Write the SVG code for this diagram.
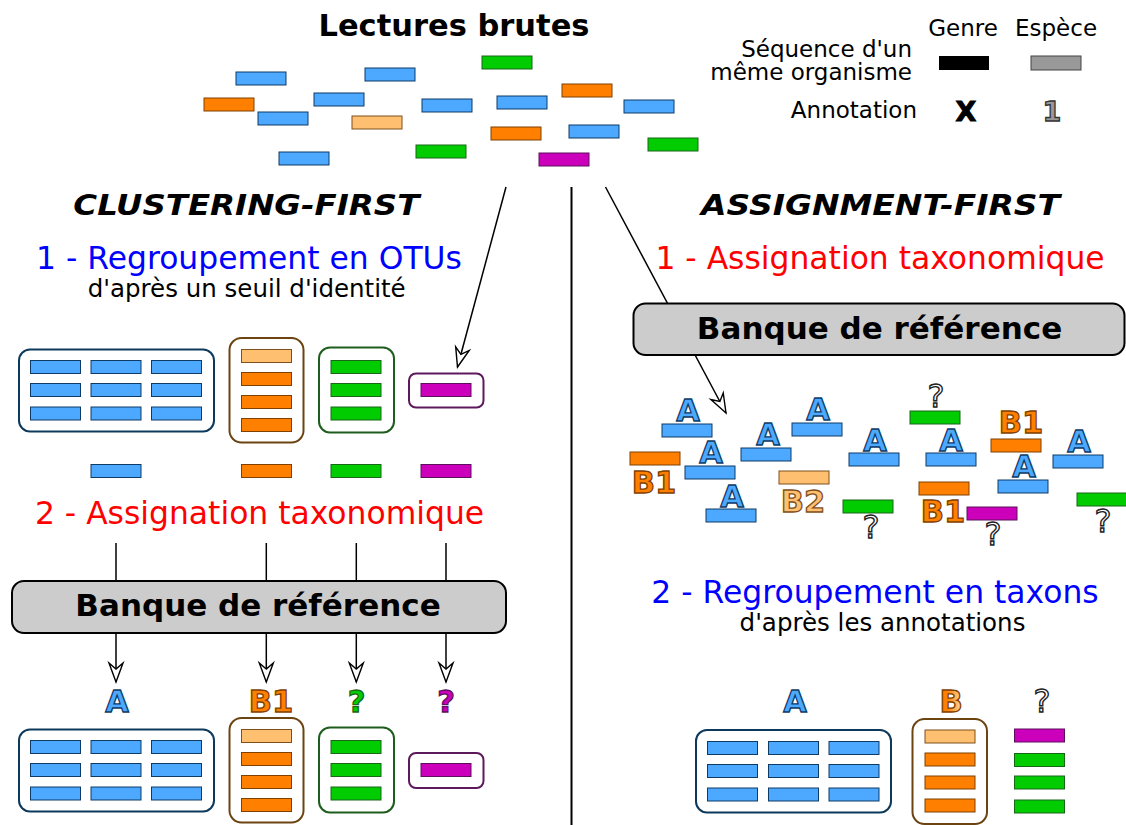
<svg xmlns="http://www.w3.org/2000/svg" width="1126" height="825" viewBox="0 0 1126 825">
<style>
text{font-family:"DejaVu Sans","Liberation Sans",sans-serif}
.b{fill:#4da9ff;stroke:#0d3b66;stroke-width:1}
.o{fill:#ff8000;stroke:#7f4000;stroke-width:1}
.lo{fill:#ffbf70;stroke:#7f501a;stroke-width:1}
.g{fill:#00cc00;stroke:#1a661a;stroke-width:1}
.m{fill:#cc00bb;stroke:#5c105c;stroke-width:1}
.gb{fill:#fff;stroke:#0d3a5c;stroke-width:2}
.go{fill:#fff;stroke:#6b4411;stroke-width:2}
.gg{fill:#fff;stroke:#1d5d1d;stroke-width:2}
.gm{fill:#fff;stroke:#5c1a5c;stroke-width:2}
.bank{fill:#cccccc;stroke:#000;stroke-width:2}
.banktxt{font-weight:bold;font-size:31px;text-anchor:middle}
.lab{font-weight:bold;font-size:30.5px;text-anchor:middle;stroke-width:1.3}
.la{fill:#4da9ff;stroke:#0d3b66}
.lb{fill:#ff8000;stroke:#7f4000}
.lb2{fill:#ffbf70;stroke:#7f501a}
.lg{fill:#00cc00;stroke:#1a661a}
.lm{fill:#cc00bb;stroke:#5c105c}
.q{font-size:32px;text-anchor:middle;fill:#fff;stroke:#222;stroke-width:1.4}
.step{font-size:31.4px;text-anchor:middle}
.sub{font-size:24.5px;text-anchor:middle;fill:#000}
.leg{font-size:23px;fill:#000}
.conn{stroke:#000;stroke-width:1.5;fill:none}
</style>
<defs>
<marker id="dart" markerWidth="24" markerHeight="16" viewBox="-22 -8 24 16" refX="0" refY="0" orient="auto" markerUnits="userSpaceOnUse" overflow="visible">
<path d="M0,0 L-19,-7 L-13,0 L-19,7 Z" fill="#fff" stroke="#000" stroke-width="1.4"/>
</marker>
<linearGradient id="bgrad" x1="0" y1="0" x2="1" y2="0">
<stop offset="0.35" stop-color="#ff8000"/>
<stop offset="1" stop-color="#ffe0b0"/>
</linearGradient>
</defs>
<rect width="1126" height="825" fill="#fff"/>

<g id="title">
<text x="454" y="36" font-size="30.5" font-weight="bold" text-anchor="middle">Lectures brutes</text>
</g>
<g id="legend">
<text class="leg" x="963" y="36" text-anchor="middle">Genre</text>
<text class="leg" x="1056" y="36" text-anchor="middle">Espèce</text>
<text class="leg" x="912" y="57" text-anchor="end" font-size="22">Séquence d'un</text>
<text class="leg" x="912" y="80" text-anchor="end" font-size="22">même organisme</text>
<rect x="939" y="56" width="50" height="14" fill="#000"/>
<rect x="1031" y="56" width="50" height="14" fill="#999" stroke="#444" stroke-width="1"/>
<text class="leg" x="917" y="118" text-anchor="end">Annotation</text>
<text x="966" y="121" font-size="27" font-weight="bold" text-anchor="middle" fill="#000" stroke="#000" stroke-width="1">X</text>
<text x="1052" y="121" font-size="27" font-weight="bold" text-anchor="middle" fill="#999" stroke="#333" stroke-width="1.3">1</text>
</g>

<g id="raw-reads">
<rect class="b" x="236" y="72" width="50" height="13"/>
<rect class="b" x="258" y="112" width="50" height="13"/>
<rect class="b" x="314" y="93" width="50" height="13"/>
<rect class="b" x="279" y="152" width="50" height="13"/>
<rect class="b" x="365" y="68" width="50" height="13"/>
<rect class="b" x="422" y="99" width="50" height="13"/>
<rect class="b" x="497" y="96" width="50" height="13"/>
<rect class="b" x="569" y="125" width="50" height="13"/>
<rect class="b" x="624" y="100" width="50" height="13"/>
<rect class="o" x="204" y="98" width="50" height="13"/>
<rect class="o" x="491" y="127" width="50" height="13"/>
<rect class="o" x="562" y="84" width="50" height="13"/>
<rect class="lo" x="352" y="116" width="50" height="13"/>
<rect class="g" x="416" y="145" width="50" height="13"/>
<rect class="g" x="482" y="56" width="50" height="13"/>
<rect class="g" x="648" y="138" width="50" height="13"/>
<rect class="m" x="539" y="153" width="50" height="13"/>
</g>

<g id="connectors">
<line x1="571.5" y1="187" x2="571.5" y2="825" stroke="#000" stroke-width="2"/>
<line class="conn" x1="506" y1="187" x2="457.5" y2="367" marker-end="url(#dart)"/>
<line class="conn" x1="605.5" y1="187" x2="726" y2="413" marker-end="url(#dart)"/>
<line class="conn" x1="116" y1="543" x2="116" y2="682" marker-end="url(#dart)"/>
<line class="conn" x1="266.3" y1="543" x2="266.3" y2="682" marker-end="url(#dart)"/>
<line class="conn" x1="356.3" y1="543" x2="356.3" y2="682" marker-end="url(#dart)"/>
<line class="conn" x1="446" y1="543" x2="446" y2="682" marker-end="url(#dart)"/>
</g>

<g id="left-title">
<text x="246.3" y="215" font-size="28" font-weight="bold" font-style="italic" text-anchor="middle" textLength="346" lengthAdjust="spacingAndGlyphs">CLUSTERING-FIRST</text>
<text class="step" x="249" y="269" fill="#0000ff">1 - Regroupement en OTUs</text>
<text class="sub" x="246.7" y="297">d'après un seuil d'identité</text>
<text class="step" x="259.5" y="524" fill="#ff0000">2 - Assignation taxonomique</text>
</g>

<g id="otu-blue">
<rect class="gb" x="19" y="349.5" width="195" height="82" rx="11"/>
<rect class="b" x="30.5" y="360.5" width="50" height="13"/><rect class="b" x="91" y="360.5" width="50" height="13"/><rect class="b" x="151.5" y="360.5" width="50" height="13"/>
<rect class="b" x="30.5" y="383.5" width="50" height="13"/><rect class="b" x="91" y="383.5" width="50" height="13"/><rect class="b" x="151.5" y="383.5" width="50" height="13"/>
<rect class="b" x="30.5" y="407" width="50" height="13"/><rect class="b" x="91" y="407" width="50" height="13"/><rect class="b" x="151.5" y="407" width="50" height="13"/>
</g>
<g id="otu-orange">
<rect class="go" x="229.5" y="338" width="74" height="104.5" rx="12"/>
<rect class="lo" x="241.5" y="349.5" width="50" height="13"/>
<rect class="o" x="241.5" y="372.5" width="50" height="13"/>
<rect class="o" x="241.5" y="395.5" width="50" height="13"/>
<rect class="o" x="241.5" y="418.5" width="50" height="13"/>
</g>
<g id="otu-green">
<rect class="gg" x="319" y="347.5" width="75" height="85" rx="11"/>
<rect class="g" x="331" y="360.5" width="50" height="13"/>
<rect class="g" x="331" y="383.5" width="50" height="13"/>
<rect class="g" x="331" y="407" width="50" height="13"/>
</g>
<g id="otu-magenta">
<rect class="gm" x="409" y="373.5" width="74.5" height="34" rx="7"/>
<rect class="m" x="421" y="383.5" width="50" height="13" stroke-width="2"/>
</g>
<g id="otu-representatives">
<rect class="b" x="91" y="464.5" width="50" height="13"/>
<rect class="o" x="241.5" y="464.5" width="50" height="13"/>
<rect class="g" x="331" y="464.5" width="50" height="13"/>
<rect class="m" x="421" y="464.5" width="50" height="13"/>
</g>

<g id="bank-left">
<rect class="bank" x="12" y="581" width="494" height="52" rx="12"/>
<text class="banktxt" x="258" y="616">Banque de référence</text>
</g>

<g id="left-labels">
<text class="lab la" x="117" y="712">A</text>
<text class="lab lb" x="271" y="712">B1</text>
<text class="lab lg" x="356.5" y="712">?</text>
<text class="lab lm" x="446" y="712">?</text>
</g>

<g id="otu-blue-annotated">
<rect class="gb" x="19" y="729.5" width="195" height="82" rx="11"/>
<rect class="b" x="30.5" y="740.5" width="50" height="13"/><rect class="b" x="91" y="740.5" width="50" height="13"/><rect class="b" x="151.5" y="740.5" width="50" height="13"/>
<rect class="b" x="30.5" y="763.5" width="50" height="13"/><rect class="b" x="91" y="763.5" width="50" height="13"/><rect class="b" x="151.5" y="763.5" width="50" height="13"/>
<rect class="b" x="30.5" y="787" width="50" height="13"/><rect class="b" x="91" y="787" width="50" height="13"/><rect class="b" x="151.5" y="787" width="50" height="13"/>
</g>
<g id="otu-orange-annotated">
<rect class="go" x="229.5" y="718" width="74" height="104.5" rx="12"/>
<rect class="lo" x="241.5" y="729.5" width="50" height="13"/>
<rect class="o" x="241.5" y="752.5" width="50" height="13"/>
<rect class="o" x="241.5" y="775.5" width="50" height="13"/>
<rect class="o" x="241.5" y="798.5" width="50" height="13"/>
</g>
<g id="otu-green-annotated">
<rect class="gg" x="319" y="727.5" width="75" height="85" rx="11"/>
<rect class="g" x="331" y="740.5" width="50" height="13"/>
<rect class="g" x="331" y="763.5" width="50" height="13"/>
<rect class="g" x="331" y="787" width="50" height="13"/>
</g>
<g id="otu-magenta-annotated">
<rect class="gm" x="409" y="753" width="74.5" height="35" rx="7"/>
<rect class="m" x="421" y="763.5" width="50" height="13"/>
</g>

<g id="right-title">
<text x="880.5" y="215" font-size="28" font-weight="bold" font-style="italic" text-anchor="middle" textLength="359" lengthAdjust="spacingAndGlyphs">ASSIGNMENT-FIRST</text>
<text class="step" x="880" y="268.5" fill="#ff0000">1 - Assignation taxonomique</text>
<text class="step" x="875" y="603" fill="#0000ff">2 - Regroupement en taxons</text>
<text class="sub" x="882.5" y="631" font-size="24">d'après les annotations</text>
</g>

<g id="bank-right">
<rect class="bank" x="633.5" y="303.5" width="491" height="51.5" rx="12"/>
<text class="banktxt" x="879.5" y="338.5">Banque de référence</text>
</g>

<g id="annotated-reads">
<rect class="b" x="662" y="424" width="50" height="13"/><text class="lab la" x="688" y="421">A</text>
<rect class="b" x="685" y="466" width="50" height="13"/><text class="lab la" x="711" y="463">A</text>
<rect class="o" x="630" y="452" width="50" height="13"/><text class="lab lb" x="654" y="493">B1</text>
<rect class="b" x="706" y="509" width="50" height="13"/><text class="lab la" x="732" y="507">A</text>
<rect class="b" x="741" y="448" width="50" height="13"/><text class="lab la" x="768" y="445">A</text>
<rect class="b" x="792" y="423" width="50" height="13"/><text class="lab la" x="818" y="420">A</text>
<rect class="lo" x="779" y="471" width="50" height="13"/><text class="lab lb2" x="803" y="512">B2</text>
<rect class="b" x="849" y="453" width="50" height="13"/><text class="lab la" x="875" y="451">A</text>
<rect class="g" x="843" y="500" width="50" height="13"/><text class="q" x="871" y="538">?</text>
<rect class="g" x="910" y="411" width="50" height="13"/><text class="q" x="936" y="407">?</text>
<rect class="b" x="926" y="453" width="50" height="13"/><text class="lab la" x="951" y="451">A</text>
<rect class="o" x="919" y="482" width="50" height="13"/><text class="lab lb" x="943" y="522">B1</text>
<rect class="m" x="967" y="507" width="50" height="13"/><text class="q" x="993" y="545">?</text>
<rect class="o" x="991" y="439" width="50" height="13"/><text class="lab lb" x="1021" y="433">B1</text>
<rect class="b" x="998" y="480" width="50" height="13"/><text class="lab la" x="1024" y="477">A</text>
<rect class="b" x="1053" y="455" width="50" height="13"/><text class="lab la" x="1079" y="452">A</text>
<rect class="g" x="1077" y="493" width="50" height="13"/><text class="q" x="1103" y="532">?</text>
</g>

<g id="taxon-A">
<text class="lab la" x="795" y="712">A</text>
<rect class="gb" x="696" y="730" width="195" height="82.5" rx="11"/>
<rect class="b" x="707.5" y="741.5" width="50" height="13"/><rect class="b" x="768.5" y="741.5" width="50" height="13"/><rect class="b" x="829" y="741.5" width="50" height="13"/>
<rect class="b" x="707.5" y="764.5" width="50" height="13"/><rect class="b" x="768.5" y="764.5" width="50" height="13"/><rect class="b" x="829" y="764.5" width="50" height="13"/>
<rect class="b" x="707.5" y="788" width="50" height="13"/><rect class="b" x="768.5" y="788" width="50" height="13"/><rect class="b" x="829" y="788" width="50" height="13"/>
</g>
<g id="taxon-B">
<text class="lab" x="951" y="712" fill="url(#bgrad)" stroke="#7f4000">B</text>
<rect class="go" x="912.5" y="719" width="74.5" height="105" rx="12"/>
<rect class="lo" x="925" y="730" width="50" height="13"/>
<rect class="o" x="925" y="753" width="50" height="13"/>
<rect class="o" x="925" y="776" width="50" height="13"/>
<rect class="o" x="925" y="799" width="50" height="13"/>
</g>
<g id="taxon-unknown">
<text class="q" x="1042" y="712">?</text>
<rect class="m" x="1014.5" y="729" width="50" height="13"/>
<rect class="g" x="1014.5" y="753.5" width="50" height="13"/>
<rect class="g" x="1014.5" y="776" width="50" height="13"/>
<rect class="g" x="1014.5" y="800" width="50" height="13"/>
</g>
</svg>
